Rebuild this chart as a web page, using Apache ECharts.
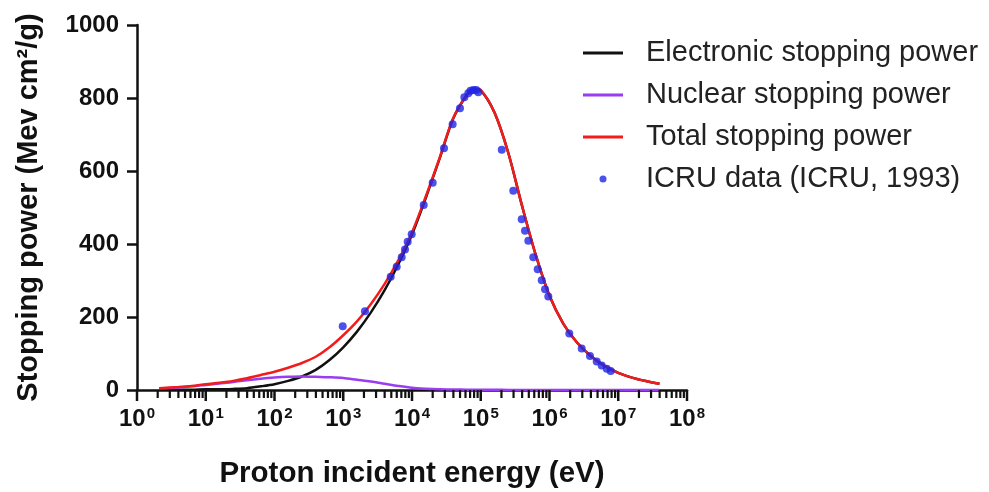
<!DOCTYPE html>
<html>
<head>
<meta charset="utf-8">
<script src="https://cdn.jsdelivr.net/npm/echarts@6/dist/echarts.min.js"></script>
<style>
  html, body { margin: 0; padding: 0; background: #fff; }
  #chart { width: 989px; height: 492px; }
</style>
</head>
<body>
<div id="chart"></div>
<script>
// energy grid of the model curves (eV), ~0.2 decade steps
const energy = [2.1, 4, 6.3, 10, 15.8, 25.1, 39.8, 63.1, 100, 158, 251, 398, 631,
  1000, 1585, 2512, 3981, 6310, 1e4, 15850, 25120, 39810, 63100, 79400, 1e5,
  158500, 251200, 398100, 631000, 1e6, 1585000, 2512000, 3981000, 6310000, 1e7,
  15850000, 25120000, 39810000]
const total = [5, 8, 11, 16, 20, 25, 32, 41, 50, 61, 74, 91, 117,
  150, 188, 235, 290, 355, 432, 530, 635, 745, 810, 826, 822,
  760, 650, 505, 370, 258, 182, 130, 93, 66, 47,
  34, 24.5, 17]
const nuclear = [4.5, 7, 10, 14, 18, 22, 27, 31, 34, 36, 37, 36, 35,
  33, 28, 23, 17, 11, 6, 3.5, 2, 1.3, 0.9, 0.7, 0.6,
  0.4, 0.3, 0.2, 0.15, 0.1, 0.1, 0.05, 0.05, 0, 0,
  0, 0, 0]
const electronic = [0.5, 1, 1, 2, 2, 3, 5, 10, 16, 25, 37, 55, 82,
  117, 160, 212, 273, 344, 426, 526, 633, 744, 809, 825, 821,
  760, 650, 505, 370, 258, 182, 130, 93, 66, 47,
  34, 24.5, 17]

// ICRU (1993) points
const icruEnergy = [982, 2070, 4900, 5990, 7080, 7910, 8650, 9900, 14800, 20000, 29200,
  39000, 49900, 57700, 65900, 71000, 78000, 86000, 92000, 202000, 297000, 394000, 440000,
  492000, 581000, 673000, 771000, 861000, 961000, 1940000, 2940000, 3880000, 4860000,
  5740000, 6800000, 7760000]
const icruValue = [175, 216, 310, 338, 364, 385, 406, 427, 507, 568, 662,
  728, 772, 802, 813, 820, 822, 822, 816, 658, 546, 468, 436,
  409, 364, 331, 301, 276, 256, 155, 114, 93, 78, 67, 58, 52]

const decades = [1, 10, 100, 1e3, 1e4, 1e5, 1e6, 1e7, 1e8]
const minorMultipliers = [2, 3, 4, 5, 6, 7, 8, 9]

const FONT = "'Liberation Sans', Arial, sans-serif"
const LINE_ICON = 'path://M0,0H40V3H0Z'
const DOT_ICON = 'path://M0,0M40,14M16.5,7a3.5,3.5 0 1,0 7,0a3.5,3.5 0 1,0 -7,0Z'

function pairs(xs, ys) {
  return xs.map((x, i) => [x, ys[i]])
}

const chart = echarts.init(document.getElementById('chart'))

chart.setOption({
  backgroundColor: '#fff',
  animation: false,
  grid: { left: 137, right: 302, top: 25, bottom: 102, outerBoundsMode: 'none', containLabel: false },
  legend: {
    orient: 'vertical',
    left: 583,
    top: 38,
    padding: 0,
    itemWidth: 40,
    itemHeight: 14,
    itemGap: 12,
    formatter: name => '{g|}' + name,
    textStyle: {
      fontFamily: FONT,
      fontSize: 29,
      color: '#222',
      lineHeight: 30,
      rich: { g: { width: 18, lineHeight: 30 } }
    },
    data: [
      { name: 'Electronic stopping power', icon: LINE_ICON },
      { name: 'Nuclear stopping power', icon: LINE_ICON },
      { name: 'Total stopping power', icon: LINE_ICON },
      { name: 'ICRU data (ICRU, 1993)', icon: DOT_ICON }
    ]
  },
  xAxis: {
    type: 'log',
    logBase: 10,
    min: 1,
    max: 1e8,
    name: 'Proton incident energy (eV)',
    nameLocation: 'middle',
    nameGap: 69,
    nameTextStyle: { fontFamily: FONT, fontSize: 29.5, fontWeight: 'bold', color: '#111' },
    axisLine: { show: true, lineStyle: { color: '#111', width: 2.5 } },
    axisTick: { show: false },
    axisLabel: {
      customValues: decades,
      margin: 16,
      formatter: v => '{a|10}{b|' + Math.round(Math.log10(v)) + '}',
      rich: {
        a: { fontFamily: FONT, fontSize: 24, fontWeight: 'bold', color: '#111', lineHeight: 26 },
        b: { fontFamily: FONT, fontSize: 15, fontWeight: 'bold', color: '#111', verticalAlign: 'top', lineHeight: 26, padding: [0, 0, 10, 1] }
      }
    },
    splitLine: { show: false }
  },
  yAxis: {
    type: 'value',
    min: 0,
    max: 1000,
    interval: 200,
    name: 'Stopping power (Mev cm²/g)',
    nameLocation: 'middle',
    nameGap: 94,
    nameTextStyle: { fontFamily: FONT, fontSize: 29, fontWeight: 'bold', color: '#111' },
    axisLine: { show: true, lineStyle: { color: '#111', width: 2.5 } },
    axisTick: { show: true, length: 10, lineStyle: { color: '#111', width: 2.5 } },
    axisLabel: { fontFamily: FONT, fontSize: 24, fontWeight: 'bold', color: '#111', margin: 18, formatter: v => String(v) },
    splitLine: { show: false }
  },
  series: [
    {
      name: 'Electronic stopping power',
      type: 'line',
      data: pairs(energy, electronic),
      smooth: 0.3,
      symbol: 'none',
      lineStyle: { color: '#111', width: 2.5 },
      itemStyle: { color: '#111' },
      z: 2
    },
    {
      name: 'Nuclear stopping power',
      type: 'line',
      data: pairs(energy, nuclear),
      smooth: 0.3,
      symbol: 'none',
      lineStyle: { color: '#9a3cf2', width: 2.5 },
      itemStyle: { color: '#9a3cf2' },
      z: 3
    },
    {
      name: 'Total stopping power',
      type: 'line',
      data: pairs(energy, total),
      smooth: 0.3,
      symbol: 'none',
      lineStyle: { color: '#f21c1c', width: 2.5 },
      itemStyle: { color: '#f21c1c' },
      z: 4
    },
    {
      name: 'ICRU data (ICRU, 1993)',
      type: 'scatter',
      data: pairs(icruEnergy, icruValue),
      symbol: 'circle',
      symbolSize: 8,
      itemStyle: { color: '#1f25e6' },
      z: 5
    }
  ]
})

// log-axis tick marks (major at decades, minor at 2..9), placed through the x scale
const baseY = chart.convertToPixel({ yAxisIndex: 0 }, 0)
const tickMarks = []
function addTick(v, len, w) {
  const x = chart.convertToPixel({ xAxisIndex: 0 }, v)
  tickMarks.push({
    type: 'line',
    silent: true,
    z: 50,
    shape: { x1: x, y1: baseY, x2: x, y2: baseY + len },
    style: { stroke: '#111', lineWidth: w }
  })
}
decades.forEach((d, i) => {
  addTick(d, 11, 2.5)
  if (i < decades.length - 1) minorMultipliers.forEach(k => addTick(k * d, 8, 2.2))
})
chart.setOption({ graphic: { elements: tickMarks } })
</script>
</body>
</html>
